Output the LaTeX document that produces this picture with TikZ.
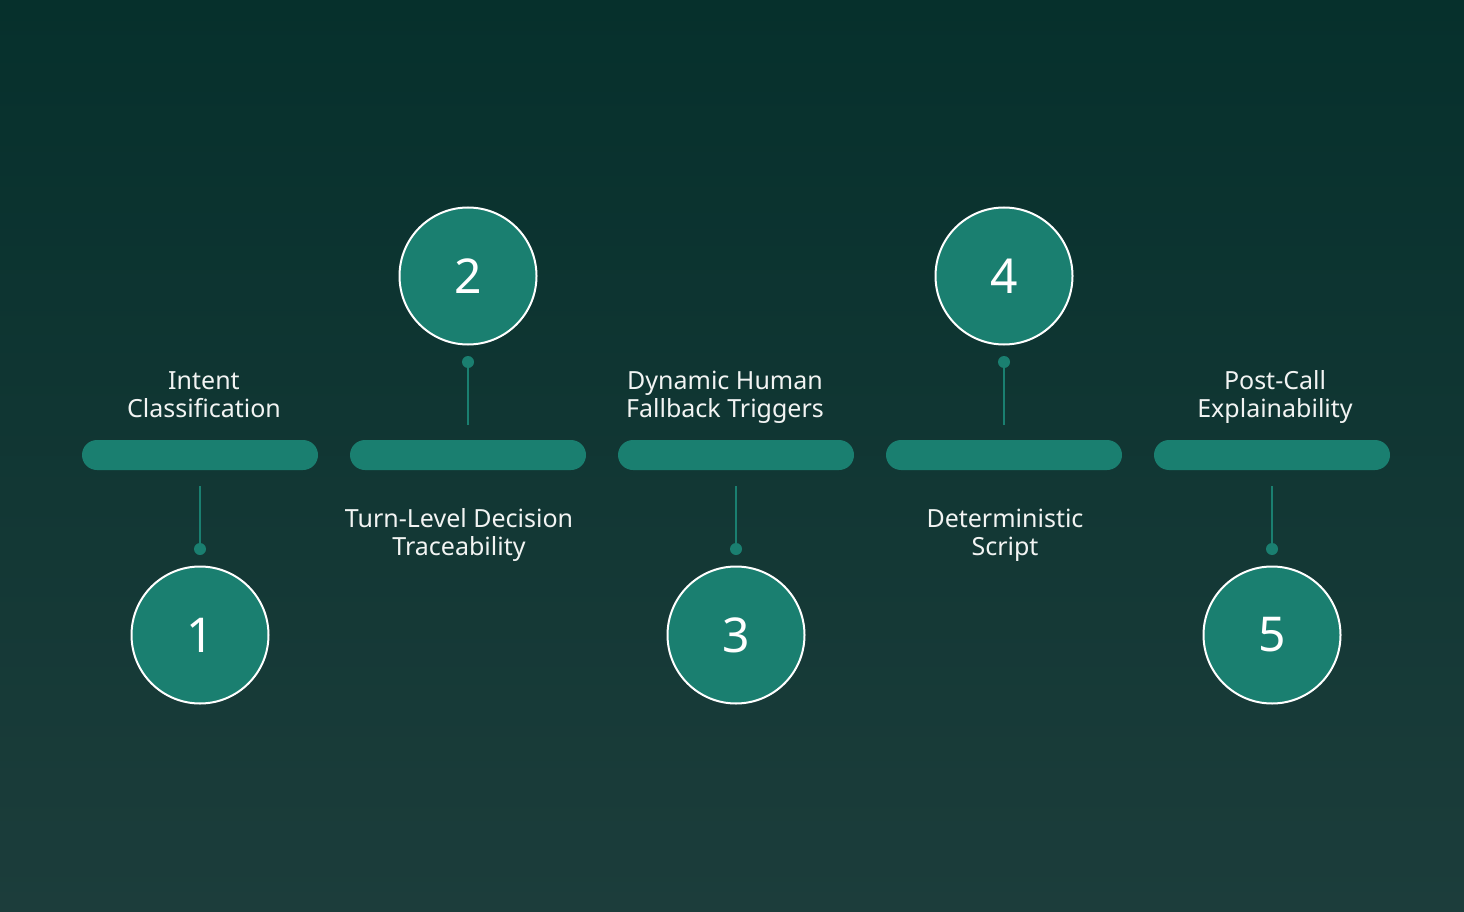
\documentclass[tikz,border=0pt]{standalone}
\usepackage{fontspec}
\setmainfont{Noto Sans}
\usetikzlibrary{shapes.misc}
\definecolor{bgtop}{HTML}{06302C}
\definecolor{bgbot}{HTML}{1C3D3B}
\definecolor{teal}{HTML}{1A7F70}
\definecolor{txt}{HTML}{F2F4F3}
\tikzset{
  bar/.style={rounded rectangle, fill=teal, minimum width=236pt, minimum height=30pt, inner sep=0pt},
  num/.style={circle, fill=teal, draw=white, line width=2pt, minimum size=137pt, inner sep=0pt, text=white, font=\fontsize{48}{52}\selectfont},
  dotn/.style={circle, fill=teal, minimum size=12pt, inner sep=0pt},
  conn/.style={draw=teal, line width=2pt},
  lbl/.style={text=txt, align=center, font=\fontsize{25}{28}\selectfont, inner sep=0pt},
}
\begin{document}
\begin{tikzpicture}[x=1pt,y=-1pt]
\shade[top color=bgtop, bottom color=bgbot] (0,0) rectangle (1464,912);
\useasboundingbox (0,0) rectangle (1464,912);
% bars
\foreach \i/\x in {1/200,2/468,3/736,4/1004,5/1272}{
  \node[bar] (b\i) at (\x,455) {};
}
% bottom circles 1,3,5
\foreach \i/\x in {1/200,3/736,5/1272}{
  \node[num] (c\i) at (\x,635) {\i};
  \node[dotn] (d\i) at (\x,549) {};
  \coordinate (t\i) at (\x,486);
  \draw[conn] (t\i) -- (d\i.center);
}
% top circles 2,4
\foreach \i/\x in {2/468,4/1004}{
  \node[num] (c\i) at (\x,276) {\i};
  \node[dotn] (d\i) at (\x,362) {};
  \coordinate (t\i) at (\x,425);
  \draw[conn] (d\i.center) -- (t\i);
}
% labels
\node[lbl] (l1) at (204,398) {\strut Intent\\\strut Classification};
\node[lbl] (l2) at (459,536) {\strut Turn-Level Decision\\\strut Traceability};
\node[lbl] (l3) at (725,398) {\strut Dynamic Human\\\strut Fallback Triggers};
\node[lbl] (l4) at (1005,536) {\strut Deterministic\\\strut Script};
\node[lbl] (l5) at (1275,398) {\strut Post-Call\\\strut Explainability};
\end{tikzpicture}
\end{document}
